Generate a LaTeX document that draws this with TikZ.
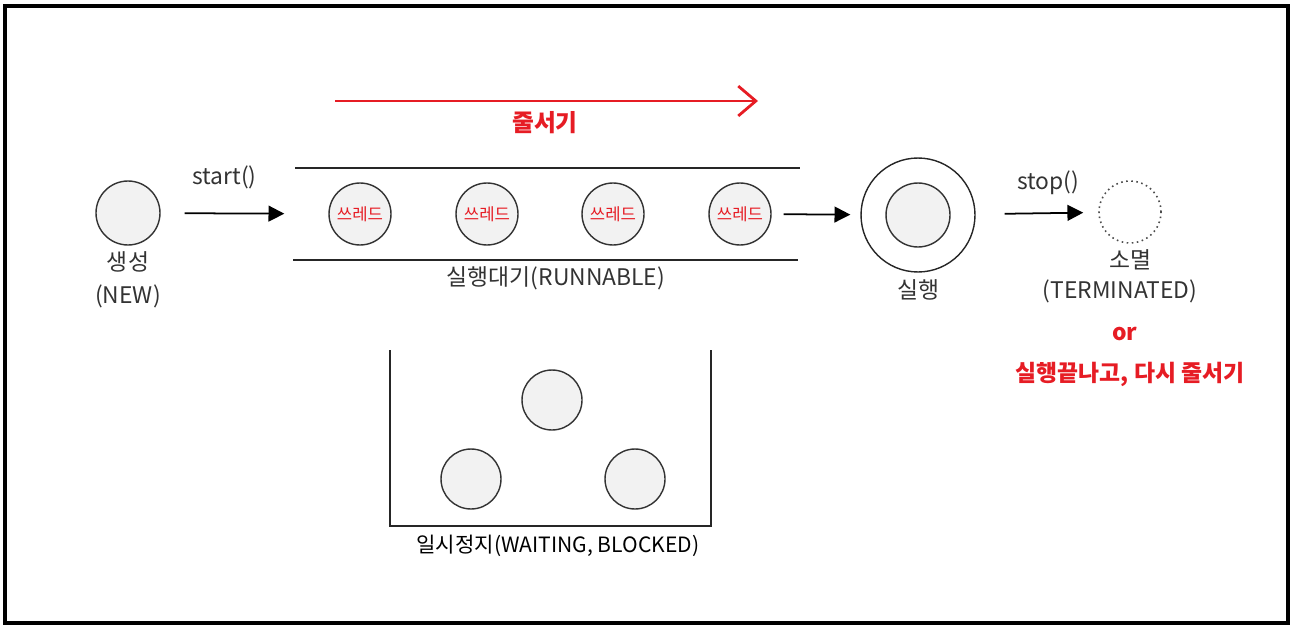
\documentclass[tikz,border=0pt]{standalone}
\usepackage{fontspec}
\setmainfont{Noto Sans CJK KR}
\usetikzlibrary{arrows.meta,positioning}

\begin{document}
\begin{tikzpicture}[
  x=0.02cm,y=-0.02cm,
  >={Triangle[length=9pt,width=9pt]},
  font=\fontsize{13}{15}\selectfont,
  state/.style={circle,draw=black!80,fill=gray!10,line width=0.8pt,
    minimum size=#1,inner sep=0pt},
  state/.default=1.2cm,
  thr/.style={state=1.24cm,font=\fontsize{9.5}{11}\selectfont,text=hot},
  flow/.style={->,line width=1pt,black},
  rail/.style={line width=1.1pt,black!85},
  lab/.style={text=black!80},
  hotlab/.style={text=hot,font=\fontsize{13.5}{16}\selectfont\bfseries}]

  \definecolor{hot}{RGB}{230,28,36}

  \useasboundingbox (0,0) rectangle (1290,625);
  \draw[line width=0.08cm] (5,6) rectangle (1287.5,622.5);

  % ---- new ----
  \node[state=1.28cm] (new) at (128,213) {};
  \node[lab] (newlbl) at (128,262) {생성};
  \node[lab] (newsub) at (128,296) {(NEW)};

  % ---- runnable queue ----
  \draw[rail] (295,168) -- (800,168);
  \draw[rail] (293,260) -- (798,260);
  \foreach \i/\x in {1/360,2/487,3/613,4/740}
    \node[thr] (t\i) at (\x,214) {쓰레드};
  \node[lab] (qlbl) at (556,278) {실행대기(RUNNABLE)};

  \draw[flow,shorten <=0.48cm,shorten >=0.88cm] (new) -- (t1)
    node[lab,midway,above=10pt,xshift=-0.4cm] {start()};

  % queueing direction
  \coordinate (qs) at (335,101);
  \coordinate (qe) at (758,101);
  \draw[hot,line width=1.6pt,-{Straight Barb[length=10pt,width=17pt]}] (qs) -- (qe);
  \node[hotlab] (qtxt) at (545,123) {줄서기};

  % ---- running ----
  \node[circle,draw=black!85,line width=0.8pt,minimum size=2.28cm] (run) at (918,215) {};
  \node[state=1.28cm] (cpu) at (918,215) {};
  \node[lab] (runlbl) at (918,290) {실행};
  \draw[flow,shorten <=0.24cm,shorten >=0.2cm] (t4) -- (run);

  % ---- terminated ----
  \node[circle,draw=black!70,dotted,line width=0.9pt,minimum size=1.24cm,inner sep=0pt]
    (dead) at (1130,212) {};
  \node[lab] (deadlbl) at (1130,260) {소멸};
  \node[lab] (deadsub) at (1120,291) {(TERMINATED)};
  \draw[flow,shorten <=0.58cm,shorten >=0.3cm] (run) -- (dead)
    node[lab,midway,above=7pt,xshift=0.22cm] {stop()};

  \node[hotlab,font=\fontsize{13}{15}\selectfont\bfseries] (or) at (1125,334) {or};
  \node[hotlab,font=\fontsize{13}{15}\selectfont\bfseries] (again) at (1130,374)
    {실행끝나고, 다시 줄서기};

  % ---- waiting ----
  \draw[rail] (390,350) -- (390,526) -- (711,526) -- (711,350);
  \node[state] (w1) at (552,400) {};
  \node[state] (w2) at (471,479) {};
  \node[state] (w3) at (635,479) {};
  \node[text=black,font=\fontsize{12}{14}\selectfont] (wlbl) at (558,546)
    {일시정지(WAITING, BLOCKED)};
\end{tikzpicture}
\end{document}
